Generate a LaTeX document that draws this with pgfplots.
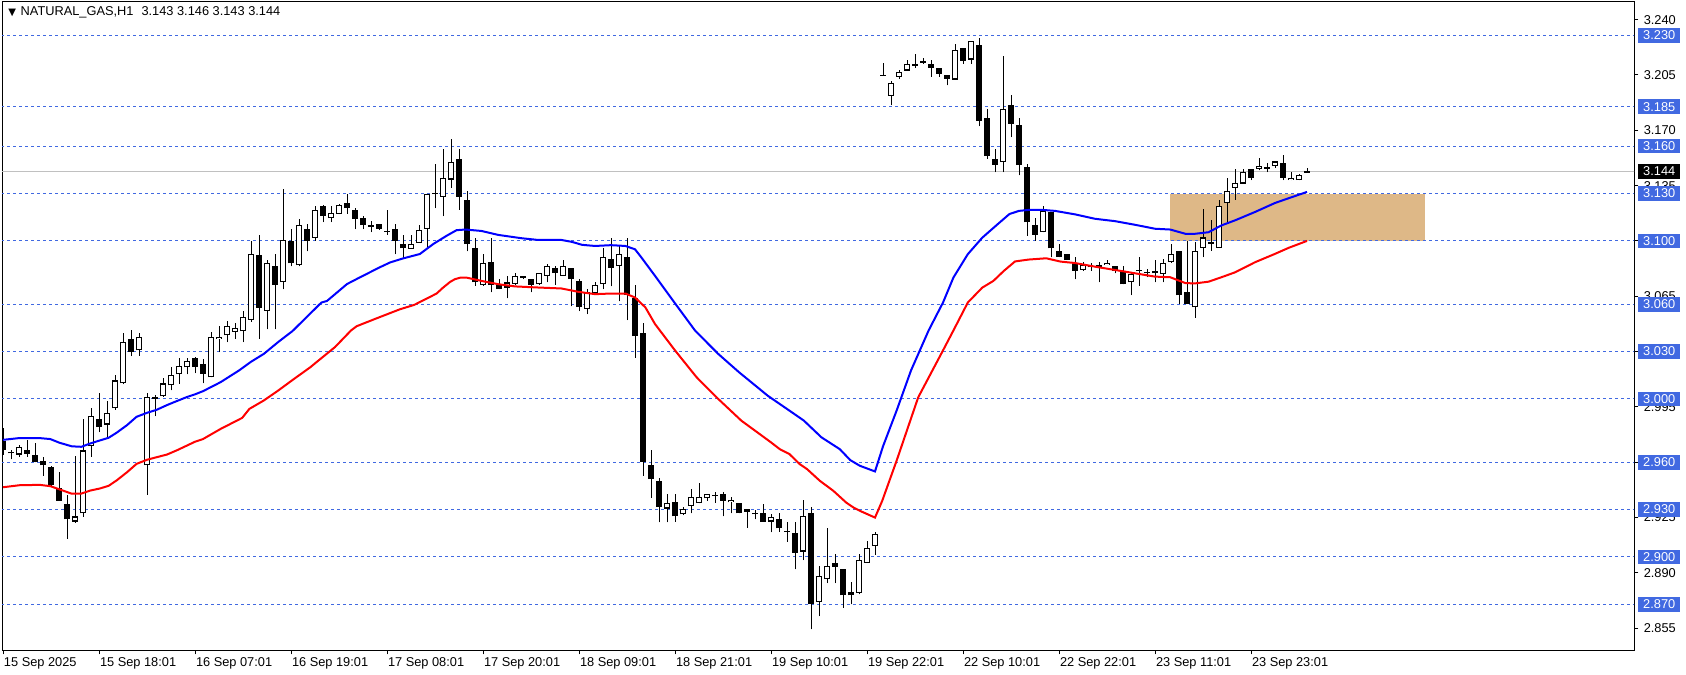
\documentclass[border=0pt]{standalone}
\usepackage{pgfplots}
\pgfplotsset{compat=1.18}
\usepackage{pgfplotstable}
\usepackage{fontspec}
\setmainfont{Liberation Sans}
\newfontfamily\dejavu{DejaVu Sans}
\definecolor{mtblue}{RGB}{65,105,225}
\definecolor{boxtan}{RGB}{222,184,135}
\definecolor{curgray}{RGB}{192,192,192}
\definecolor{mablue}{RGB}{0,0,255}
\definecolor{mared}{RGB}{255,0,0}

\pgfplotstableread{
i o h l c
0 2.9733 2.9817 2.9648 2.9674
1 2.9655 2.9674 2.9617 2.9657
2 2.9648 2.9708 2.9634 2.9697
3 2.9674 2.9737 2.9634 2.9653
4 2.9648 2.9720 2.9598 2.9600
5 2.9604 2.9631 2.9515 2.9579
6 2.9568 2.9574 2.9452 2.9454
7 2.9437 2.9536 2.9357 2.9357
8 2.9338 2.9395 2.9116 2.9237
9 2.9224 2.9638 2.9215 2.9256
10 2.9275 2.9876 2.9253 2.9674
11 2.9701 2.9940 2.9634 2.9895
12 2.9876 3.0035 2.9790 2.9822
13 2.9838 2.9986 2.9754 2.9912
14 2.9940 3.0149 2.9933 3.0117
15 3.0098 3.0417 3.0094 3.0358
16 3.0377 3.0434 3.0271 3.0297
17 3.0307 3.0415 3.0274 3.0394
18 2.9579 3.0035 2.9395 3.0014
19 3.0012 3.0022 2.9891 3.0001
20 3.0016 3.0132 3.0014 3.0098
21 3.0086 3.0202 3.0054 3.0149
22 3.0155 3.0257 3.0096 3.0206
23 3.0200 3.0259 3.0155 3.0238
24 3.0259 3.0268 3.0163 3.0201
25 3.0222 3.0254 3.0099 3.0159
26 3.0137 3.0423 3.0137 3.0395
27 3.0380 3.0460 3.0296 3.0395
28 3.0402 3.0490 3.0360 3.0461
29 3.0425 3.0483 3.0380 3.0451
30 3.0428 3.0557 3.0360 3.0518
31 3.0500 3.1000 3.0489 3.0916
32 3.0909 3.1040 3.0380 3.0578
33 3.0557 3.0879 3.0440 3.0860
34 3.0843 3.0917 3.0440 3.0720
35 3.0739 3.1331 3.0693 3.1006
36 3.0998 3.1076 3.0839 3.0858
37 3.0845 3.1140 3.0839 3.1102
38 3.1076 3.1104 3.0934 3.1000
39 3.1019 3.1223 3.1002 3.1197
40 3.1223 3.1225 3.1119 3.1157
41 3.1144 3.1223 3.1119 3.1178
42 3.1172 3.1231 3.1170 3.1229
43 3.1242 3.1299 3.1172 3.1208
44 3.1197 3.1210 3.1074 3.1138
45 3.1146 3.1159 3.1074 3.1100
46 3.1089 3.1129 3.1055 3.1102
47 3.1108 3.1110 3.1072 3.1074
48 3.1057 3.1193 3.1038 3.1057
49 3.1076 3.1104 3.0917 3.1000
50 3.0981 3.1038 3.0886 3.0953
51 3.0949 3.1038 3.0949 3.0981
52 3.0987 3.1102 3.0987 3.1070
53 3.1076 3.1300 3.0953 3.1299
54 3.1296 3.1485 3.1208 3.1299
55 3.1280 3.1580 3.1157 3.1400
56 3.1388 3.1644 3.1335 3.1502
57 3.1521 3.1580 3.1197 3.1280
58 3.1261 3.1318 3.0934 3.0979
59 3.0954 3.1017 3.0716 3.0737
60 3.0720 3.0916 3.0716 3.0859
61 3.0867 3.1017 3.0674 3.0720
62 3.0722 3.0758 3.0695 3.0695
63 3.0705 3.0779 3.0636 3.0737
64 3.0726 3.0800 3.0722 3.0779
65 3.0764 3.0779 3.0758 3.0777
66 3.0758 3.0758 3.0674 3.0720
67 3.0726 3.0796 3.0720 3.0796
68 3.0779 3.0853 3.0737 3.0840
69 3.0827 3.0842 3.0724 3.0796
70 3.0779 3.0880 3.0779 3.0840
71 3.0827 3.0827 3.0585 3.0758
72 3.0745 3.0758 3.0556 3.0581
73 3.0568 3.0695 3.0537 3.0674
74 3.0669 3.0741 3.0669 3.0720
75 3.0726 3.0956 3.0695 3.0897
76 3.0884 3.1017 3.0712 3.0827
77 3.0840 3.0968 3.0617 3.0916
78 3.0897 3.1017 3.0499 3.0657
79 3.0636 3.0720 3.0259 3.0398
80 3.0417 3.0480 2.9513 2.9600
81 2.9583 2.9676 2.9376 2.9492
82 2.9480 2.9499 2.9218 2.9317
83 2.9306 2.9397 2.9218 2.9342
84 2.9349 2.9397 2.9222 2.9256
85 2.9270 2.9313 2.9265 2.9302
86 2.9321 2.9429 2.9275 2.9378
87 2.9340 2.9465 2.9340 2.9378
88 2.9370 2.9397 2.9355 2.9397
89 2.9387 2.9412 2.9344 2.9385
90 2.9399 2.9412 2.9256 2.9355
91 2.9346 2.9380 2.9275 2.9361
92 2.9342 2.9342 2.9275 2.9275
93 2.9302 2.9302 2.9186 2.9287
94 2.9270 2.9294 2.9237 2.9270
95 2.9281 2.9334 2.9222 2.9224
96 2.9224 2.9270 2.9156 2.9251
97 2.9239 2.9279 2.9158 2.9180
98 2.9158 2.9218 2.9097 2.9158
99 2.9150 2.9222 2.8922 2.9027
100 2.9034 2.9359 2.8979 2.9258
101 2.9277 2.9317 2.8541 2.8700
102 2.8717 2.8940 2.8626 2.8877
103 2.8858 2.9182 2.8835 2.8941
104 2.8960 2.9017 2.8835 2.8939
105 2.8922 2.8922 2.8679 2.8757
106 2.8776 2.8840 2.8700 2.8757
107 2.8774 2.9017 2.8763 2.8979
108 2.8964 2.9101 2.8964 2.9059
109 2.9068 2.9158 2.9013 2.9148
110 3.2046 3.2129 3.2046 3.2046
111 3.1919 3.2010 3.1858 3.2002
112 3.2038 3.2080 3.2027 3.2072
113 3.2078 3.2144 3.2078 3.2122
114 3.2110 3.2180 3.2097 3.2122
115 3.2141 3.2160 3.2120 3.2127
116 3.2122 3.2146 3.2038 3.2095
117 3.2093 3.2093 3.2038 3.2057
118 3.2048 3.2048 3.1985 3.2025
119 3.2021 3.2249 3.2021 3.2211
120 3.2218 3.2218 3.2122 3.2141
121 3.2148 3.2268 3.2122 3.2264
122 3.2239 3.2281 3.1727 3.1761
123 3.1780 3.1837 3.1520 3.1537
124 3.1520 3.1579 3.1435 3.1482
125 3.1499 3.2169 3.1435 3.1837
126 3.1862 3.1922 3.1657 3.1740
127 3.1731 3.1780 3.1414 3.1480
128 3.1469 3.1484 3.1034 3.1118
129 3.1101 3.1144 3.1002 3.1038
130 3.1055 3.1224 3.1055 3.1192
131 3.1180 3.1180 3.0896 3.0953
132 3.0939 3.0981 3.0897 3.0897
133 3.0914 3.0918 3.0880 3.0880
134 3.0854 3.0901 3.0757 3.0810
135 3.0816 3.0869 3.0812 3.0848
136 3.0833 3.0861 3.0812 3.0835
137 3.0840 3.0869 3.0738 3.0838
138 3.0846 3.0882 3.0846 3.0861
139 3.0844 3.0844 3.0795 3.0812
140 3.0812 3.0844 3.0725 3.0725
141 3.0738 3.0801 3.0657 3.0791
142 3.0807 3.0901 3.0717 3.0808
143 3.0795 3.0822 3.0770 3.0795
144 3.0812 3.0880 3.0738 3.0795
145 3.0791 3.0884 3.0738 3.0861
146 3.0865 3.0981 3.0861 3.0918
147 3.0933 3.0933 3.0600 3.0655
148 3.0676 3.1000 3.0602 3.0602
149 3.0579 3.0996 3.0515 3.0939
150 3.0956 3.1200 3.0897 3.1022
151 3.0996 3.1130 3.0939 3.0979
152 3.0956 3.1261 3.0956 3.1223
153 3.1242 3.1401 3.1108 3.1318
154 3.1337 3.1458 3.1261 3.1369
155 3.1363 3.1458 3.1363 3.1439
156 3.1452 3.1458 3.1384 3.1399
157 3.1456 3.1522 3.1447 3.1473
158 3.1458 3.1490 3.1435 3.1458
159 3.1473 3.1503 3.1464 3.1503
160 3.1492 3.1545 3.1384 3.1401
161 3.1384 3.1439 3.1384 3.1401
162 3.1384 3.1426 3.1384 3.1420
163 3.1430 3.1460 3.1430 3.1440
}\candles

\pgfplotstableread{
i v
0 2.9741
2 2.9752
4.6 2.9752
5.9 2.9746
7.1 2.9722
8.6 2.9700
9.8 2.9697
10.9 2.9718
12.1 2.9737
13.2 2.9754
14.2 2.9786
15.5 2.9834
16.7 2.9887
18.0 2.9912
19.2 2.9931
20.5 2.9961
21.7 2.9986
23.0 3.0012
24.0 3.0029
25.0 3.0049
27.2 3.0106
29.5 3.0180
31.0 3.0235
32.6 3.0285
34.4 3.0360
36.2 3.0430
38.0 3.0520
39.8 3.0610
40.5 3.0620
43.0 3.0727
44.6 3.0769
47.1 3.0833
48.4 3.0864
50.0 3.0889
52.1 3.0917
53.8 3.0981
55.5 3.1034
56.7 3.1068
57.8 3.1072
59.8 3.1063
61.9 3.1038
64.8 3.1017
66.9 3.1006
69.8 3.1006
71.1 3.0994
72.4 3.0975
74.0 3.0968
76.0 3.0973
77.8 3.0968
79.0 3.0947
79.8 3.0895
81.5 3.0779
84.0 3.0605
86.5 3.0433
89.4 3.0285
92.0 3.0169
95.6 3.0020
98.3 2.9926
100.1 2.9863
102.3 2.9757
104.6 2.9682
105.9 2.9613
107.1 2.9577
109.0 2.9541
110.0 2.9700
111.7 2.9926
113.5 3.0180
115.7 3.0433
117.5 3.0610
118.8 3.0768
120.6 3.0916
122.4 3.1020
124.2 3.1100
125.8 3.1170
127.0 3.1190
128.2 3.1196
130.0 3.1196
131.5 3.1190
134.0 3.1168
136.5 3.1140
139.0 3.1125
141.5 3.1102
144.0 3.1077
145.9 3.1072
147.8 3.1045
149.0 3.1045
150.7 3.1055
152.3 3.1098
154.0 3.1130
156.5 3.1183
159.0 3.1240
160.7 3.1270
163.0 3.1310
}\bluema

\pgfplotstableread{
i v
0 2.9441
2.1 2.9454
4.6 2.9456
5.9 2.9448
7.1 2.9427
8.6 2.9400
9.8 2.9401
10.9 2.9420
12.1 2.9433
13.2 2.9450
14.2 2.9484
15.5 2.9536
16.7 2.9589
18.0 2.9615
19.2 2.9631
20.5 2.9648
21.7 2.9674
23.0 2.9705
24.0 2.9729
25.0 2.9746
27.2 2.9810
29.9 2.9880
30.8 2.9937
32.6 2.9990
34.4 3.0053
36.2 3.0120
38.4 3.0200
39.7 3.0254
41.5 3.0328
43.5 3.0433
44.2 3.0460
46.9 3.0514
49.6 3.0567
51.4 3.0595
53.2 3.0641
54.2 3.0667
55.0 3.0704
55.9 3.0741
56.5 3.0758
57.2 3.0768
58.0 3.0767
59.8 3.0747
61.9 3.0726
64.0 3.0712
66.9 3.0705
69.8 3.0699
71.9 3.0678
74.0 3.0663
76.0 3.0667
77.8 3.0667
79.0 3.0642
80.3 3.0579
81.5 3.0474
84.0 3.0307
86.7 3.0137
89.4 3.0000
92.3 2.9862
94.6 2.9777
96.0 2.9725
97.1 2.9682
98.3 2.9651
99.6 2.9587
100.5 2.9556
102.1 2.9482
103.8 2.9418
105.4 2.9344
106.3 2.9313
107.1 2.9292
109.0 2.9249
109.9 2.9355
111.7 2.9609
114.4 3.0010
117.5 3.0307
118.8 3.0433
120.6 3.0610
122.4 3.0704
123.8 3.0747
125.1 3.0810
126.5 3.0870
128.2 3.0882
130.4 3.0890
132.2 3.0869
134.0 3.0860
136.5 3.0837
139.0 3.0816
141.5 3.0795
144.0 3.0774
145.9 3.0770
147.8 3.0733
149.0 3.0731
150.7 3.0742
152.3 3.0770
154.0 3.0801
156.5 3.0865
159.0 3.0918
160.7 3.0956
163.0 3.1000
}\redma

\begin{document}
\begin{tikzpicture}
\begin{axis}[
  at={(0,0)}, anchor=south west, scale only axis,
  width=816bp, height=324bp,
  xmin=-0.125, xmax=203.875, ymin=2.8411, ymax=3.2512,
  clip mode=individual,
  axis line style={line width=0.5bp, black},
  every tick/.style={black, line width=0.5bp},
  tick align=outside, major tick length=2.2bp,
  xtick={0,12,...,156},
  xticklabels={15 Sep 2025, 15 Sep 18:01, 16 Sep 07:01, 16 Sep 19:01, 17 Sep 08:01, 17 Sep 20:01, 18 Sep 09:01, 18 Sep 21:01, 19 Sep 10:01, 19 Sep 22:01, 22 Sep 10:01, 22 Sep 22:01, 23 Sep 11:01, 23 Sep 23:01},
  xtick pos=left,
  ytick={2.855,2.89,2.925,2.96,2.995,3.03,3.065,3.1,3.135,3.17,3.205,3.24},
  ytick pos=right, yticklabel pos=right,
  /pgf/number format/fixed,
  /pgf/number format/fixed zerofill,
  /pgf/number format/precision=3,
  /pgf/number format/assume math mode=true,
  ticklabel style={font=\fontsize{6.4bp}{7.5bp}\selectfont, inner sep=0pt},
  xticklabel style={anchor=north west, xshift=0.3bp, yshift=-1.5bp},
  yticklabel style={anchor=west, xshift=2.5bp},
  candle/.style={only marks, mark=*, mark size=0pt, mark options={draw=none, fill=none}, forget plot},
]
% orange zone
\addplot[fill=boxtan, draw=none, forget plot] coordinates {(145.9,3.100) (177.75,3.100) (177.75,3.130) (145.9,3.130)} -- cycle;
% level lines
\pgfplotsinvokeforeach{3.230,3.185,3.160,3.130,3.100,3.060,3.030,3.000,2.960,2.930,2.900,2.870}{
  \addplot[mtblue, line width=0.5bp, dash pattern=on 1.5bp off 1.5bp, forget plot] coordinates {(-1,#1) (205,#1)};
}
\addplot[curgray, line width=0.5bp, forget plot] coordinates {(-1,3.144) (205,3.144)};
% wicks
\addplot[candle,
  error bars/.cd, y dir=plus, y explicit, error mark=none,
  error bar style={line width=0.5bp, black}]
  table[x=i, y=l, y error plus expr={\thisrow{h}-\thisrow{l}}] {\candles};
% bodies
\addplot[candle,
  error bars/.cd, y dir=plus, y explicit, error mark=none,
  error bar style={line width=2.6bp, black}]
  table[x=i, y expr={min(\thisrow{o},\thisrow{c})}, y error plus expr={max(abs(\thisrow{c}-\thisrow{o}),0.0007)}] {\candles};
% white interior of rising candles
\addplot[candle, restrict y to domain=2:4,
  error bars/.cd, y dir=plus, y explicit, error mark=none,
  error bar style={line width=1.6bp, white}]
  table[x=i, y expr={ifthenelse(\thisrow{c}-\thisrow{o}>0.0014, \thisrow{o}+0.0007, 100)}, y error plus expr={\thisrow{c}-\thisrow{o}-0.0014}] {\candles};
% moving averages
\addplot[mared, line width=1bp, forget plot] table[x=i, y=v] {\redma};
\addplot[mablue, line width=1bp, forget plot] table[x=i, y=v] {\bluema};
% title
\node[anchor=west, inner sep=0pt, font=\fontsize{6.4bp}{7.5bp}\selectfont] at (rel axis cs:0,1) [xshift=3bp, yshift=-5.2bp]
  {{\dejavu\fontsize{5bp}{6bp}\selectfont ▼}\hspace{2.3bp}NATURAL\_GAS,H1\hspace{4bp}3.143 3.146 3.143 3.144};
% anchors for price labels
\coordinate (A1) at (axis cs:203.875,3.230);
\coordinate (A2) at (axis cs:203.875,3.185);
\coordinate (A3) at (axis cs:203.875,3.160);
\coordinate (A4) at (axis cs:203.875,3.130);
\coordinate (A5) at (axis cs:203.875,3.100);
\coordinate (A6) at (axis cs:203.875,3.060);
\coordinate (A7) at (axis cs:203.875,3.030);
\coordinate (A8) at (axis cs:203.875,3.000);
\coordinate (A9) at (axis cs:203.875,2.960);
\coordinate (A10) at (axis cs:203.875,2.930);
\coordinate (A11) at (axis cs:203.875,2.900);
\coordinate (A12) at (axis cs:203.875,2.870);
\coordinate (AC) at (axis cs:203.875,3.144);
\end{axis}
\tikzset{plab/.style={anchor=west, fill=mtblue, text=white, inner xsep=2.4bp, inner ysep=0pt, minimum height=7.4bp, font=\fontsize{6.4bp}{7.5bp}\selectfont, xshift=2bp}}
\node[plab] at (A1) {3.230};
\node[plab] at (A2) {3.185};
\node[plab] at (A3) {3.160};
\node[plab] at (A4) {3.130};
\node[plab] at (A5) {3.100};
\node[plab] at (A6) {3.060};
\node[plab] at (A7) {3.030};
\node[plab] at (A8) {3.000};
\node[plab] at (A9) {2.960};
\node[plab] at (A10) {2.930};
\node[plab] at (A11) {2.900};
\node[plab] at (A12) {2.870};
\node[plab, fill=black] at (AC) {3.144};
\pgfresetboundingbox
\path[use as bounding box] (-1bp,-12.5bp) rectangle (842bp,325bp);
\end{tikzpicture}
\end{document}
